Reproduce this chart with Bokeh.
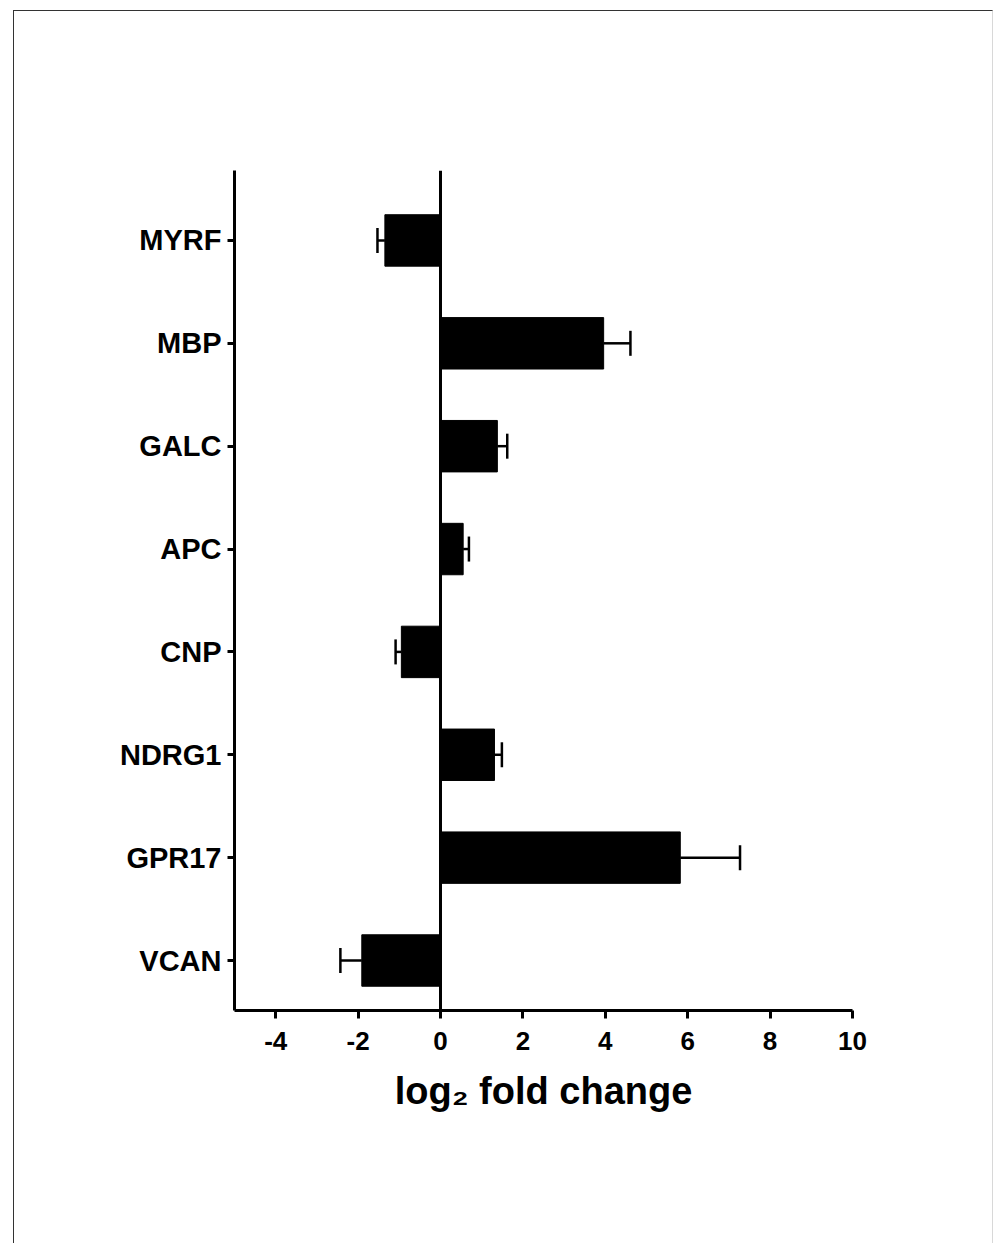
from bokeh.plotting import figure
from bokeh.models import Range1d, FixedTicker, Span, Whisker, TeeHead, ColumnDataSource
from bokeh.embed import file_html
from bokeh.resources import INLINE

# ---- data (top to bottom as drawn) ----
genes = ["MYRF", "MBP", "GALC", "APC", "CNP", "NDRG1", "GPR17", "VCAN"]
log2_fc = [-1.35, 3.96, 1.38, 0.55, -0.95, 1.31, 5.82, -1.91]
err_end = [-1.53, 4.61, 1.62, 0.69, -1.09, 1.49, 7.27, -2.43]
x_ticks = [-4, -2, 0, 2, 4, 6, 8, 10]
x_tick_labels = ["-4", "-2", "0", "2", "4", "6", "8", "10"]

n = len(genes)
ypos = [n - i for i in range(n)]  # MYRF at top

src = ColumnDataSource(dict(y=ypos, v=log2_fc, e=err_end, g=genes))

FONT = "Liberation Sans"

p = figure(width=980, height=1233, output_backend="svg", toolbar_location=None,
           x_range=Range1d(-5, 10), y_range=Range1d(0.514, 8.68))
p.min_border_left = 220
p.min_border_right = 142
p.min_border_top = 159
p.min_border_bottom = 234
p.outline_line_color = None
p.xgrid.visible = False
p.ygrid.visible = False
p.background_fill_color = "white"
p.border_fill_color = "white"
p.styles = {"margin-left": "13px", "margin-top": "10px",
            "border-left": "1px solid #333333", "border-top": "1px solid #333333",
            "border-right": "1px solid #d8d8d8"}

p.hbar(y="y", left=0, right="v", height=0.5, source=src,
       fill_color="black", line_color="black")

p.add_layout(Whisker(source=src, base="y", lower="v", upper="e", dimension="width",
                     line_color="black", line_width=2.5,
                     lower_head=None,
                     upper_head=TeeHead(size=25, line_color="black", line_width=2.5)))

p.add_layout(Span(location=0, dimension="height", line_color="black", line_width=3))

# x axis
xa = p.xaxis[0]
xa.ticker = FixedTicker(ticks=x_ticks)
xa.major_label_overrides = {t: s for t, s in zip(x_ticks, x_tick_labels)}
xa.minor_tick_line_color = None
xa.axis_line_width = 3
xa.major_tick_line_width = 3
xa.major_tick_in = 0
xa.major_tick_out = 8
xa.major_label_text_font = FONT
xa.major_label_text_font_style = "bold"
xa.major_label_text_font_size = "26px"
xa.major_label_text_color = "black"
xa.major_label_standoff = 13
xa.axis_label = "log\u2082 fold change"
xa.axis_label_text_font = FONT
xa.axis_label_text_font_style = "bold"
xa.axis_label_text_font_size = "38px"
xa.axis_label_text_color = "black"
xa.axis_label_standoff = 17

# y axis
ya = p.yaxis[0]
ya.ticker = FixedTicker(ticks=ypos)
ya.major_label_overrides = {y: g for y, g in zip(ypos, genes)}
ya.minor_tick_line_color = None
ya.axis_line_width = 3
ya.major_tick_line_width = 3
ya.major_tick_in = 0
ya.major_tick_out = 7
ya.major_label_text_font = FONT
ya.major_label_text_font_style = "bold"
ya.major_label_text_font_size = "29px"
ya.major_label_text_color = "black"
ya.major_label_standoff = 6

open("out.html", "w").write(file_html(p, INLINE))
